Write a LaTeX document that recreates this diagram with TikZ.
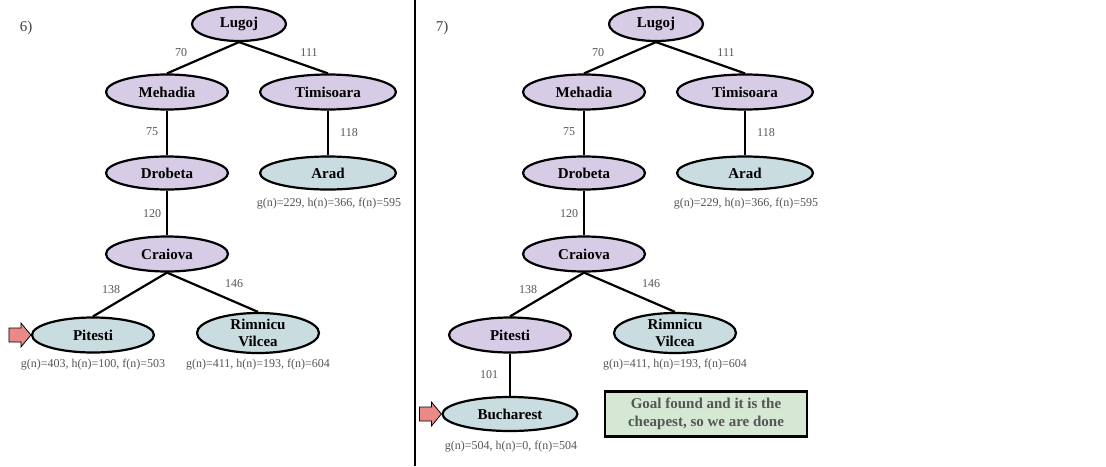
\documentclass[tikz,border=0pt]{standalone}
\usepackage{fontspec}
\setmainfont{Liberation Serif}
\usetikzlibrary{shapes.geometric}
\definecolor{purp}{HTML}{D6CCE6}
\definecolor{teal2}{HTML}{C9DCE0}
\definecolor{salm}{HTML}{EA8A86}
\definecolor{gbox}{HTML}{D5E8D4}
\definecolor{lbl}{HTML}{555555}
\tikzset{
  city/.style={ellipse,draw=black,line width=2.2pt,inner sep=0pt,minimum width=122pt,minimum height=35pt,font=\fontsize{15}{17}\selectfont\bfseries,align=center},
  done/.style={city,fill=purp},
  front/.style={city,fill=teal2},
  edge/.style={line width=2.2pt},
  wt/.style={text=lbl,font=\fontsize{12}{13}\selectfont},
  cost/.style={text=lbl,font=\fontsize{12}{13}\selectfont},
  ptr/.style={fill=salm,draw=black,line width=0.8pt},
  goalbox/.style={draw=black,line width=2.2pt,fill=gbox,minimum width=202pt,minimum height=45pt,inner sep=0pt,align=center,text=lbl,font=\fontsize{15}{18}\selectfont\bfseries}
}
\begin{document}
\begin{tikzpicture}[x=1pt,y=-1pt]
\useasboundingbox (0,0) rectangle (1106,466);
\draw[line width=2pt] (415,0) -- (415,466);
% ---- panel 6
\node[font=\fontsize{15}{15}\selectfont,text=black!75] (n6) at (26,28) {6)};
\node[done,minimum width=94pt,minimum height=34pt] (L) at (239,24) {Lugoj};
\node[done] (M) at (167,92) {Mehadia};
\node[done,minimum width=136pt] (T) at (328,92) {Timisoara};
\node[done,minimum height=33pt] (D) at (167,173) {Drobeta};
\node[front,minimum width=136pt,minimum height=33pt] (A) at (328,173) {Arad};
\node[done] (C) at (167,254) {Craiova};
\node[front] (P) at (93,335) {Pitesti};
\node[front,minimum height=40pt] (R) at (258,333) {Rimnicu\\Vilcea};
\draw[edge] (L.south) -- (M.north);
\draw[edge] (L.south) -- (T.north);
\draw[edge] (M) -- (D);
\draw[edge] (T) -- (A);
\draw[edge] (D) -- (C);
\draw[edge] (C.south) -- (P.north);
\draw[edge] (C.south) -- (R.north);
\node[wt] (w1) at (181,53) {70};
\node[wt] (w2) at (309,53) {111};
\node[wt] (w3) at (152,132) {75};
\node[wt] (w4) at (349,133) {118};
\node[wt] (w5) at (152,214) {120};
\node[wt] (w6) at (111,290) {138};
\node[wt] (w7) at (234,284) {146};
\node[cost] (cA) at (329,204) {g(n)=229, h(n)=366, f(n)=595};
\node[cost] (cP) at (93,365) {g(n)=403, h(n)=100, f(n)=503};
\node[cost] (cR) at (258,365) {g(n)=411, h(n)=193, f(n)=604};
\draw[ptr] (P.west) -- ++(-10,-12) -- ++(0,5) -- ++(-12,0) -- ++(0,14) -- ++(12,0) -- ++(0,5) -- cycle;
% ---- panel 7
\node[font=\fontsize{15}{15}\selectfont,text=black!75] (n7) at (442,28) {7)};
\node[done,minimum width=94pt,minimum height=34pt] (L2) at (656,24) {Lugoj};
\node[done] (M2) at (584,92) {Mehadia};
\node[done,minimum width=136pt] (T2) at (745,92) {Timisoara};
\node[done,minimum height=33pt] (D2) at (584,173) {Drobeta};
\node[front,minimum width=136pt,minimum height=33pt] (A2) at (745,173) {Arad};
\node[done] (C2) at (584,254) {Craiova};
\node[done] (P2) at (510,335) {Pitesti};
\node[front,minimum height=40pt] (R2) at (675,333) {Rimnicu\\Vilcea};
\node[front,minimum width=135pt,minimum height=34pt] (B2) at (510,414) {Bucharest};
\draw[edge] (L2.south) -- (M2.north);
\draw[edge] (L2.south) -- (T2.north);
\draw[edge] (M2) -- (D2);
\draw[edge] (T2) -- (A2);
\draw[edge] (D2) -- (C2);
\draw[edge] (C2.south) -- (P2.north);
\draw[edge] (C2.south) -- (R2.north);
\draw[edge] (P2) -- (B2);
\node[wt] (v1) at (598,53) {70};
\node[wt] (v2) at (726,53) {111};
\node[wt] (v3) at (569,132) {75};
\node[wt] (v4) at (766,133) {118};
\node[wt] (v5) at (569,214) {120};
\node[wt] (v6) at (528,290) {138};
\node[wt] (v7) at (651,284) {146};
\node[wt] (v8) at (489,375) {101};
\node[cost] (cA2) at (746,204) {g(n)=229, h(n)=366, f(n)=595};
\node[cost] (cR2) at (675,365) {g(n)=411, h(n)=193, f(n)=604};
\node[cost] (cB2) at (511,447) {g(n)=504, h(n)=0, f(n)=504};
\draw[ptr] (B2.west) -- ++(-10,-12) -- ++(0,5) -- ++(-12,0) -- ++(0,14) -- ++(12,0) -- ++(0,5) -- cycle;
\node[goalbox] (G) at (706,414) {Goal found and it is the\\cheapest, so we are done};
\end{tikzpicture}
\end{document}
